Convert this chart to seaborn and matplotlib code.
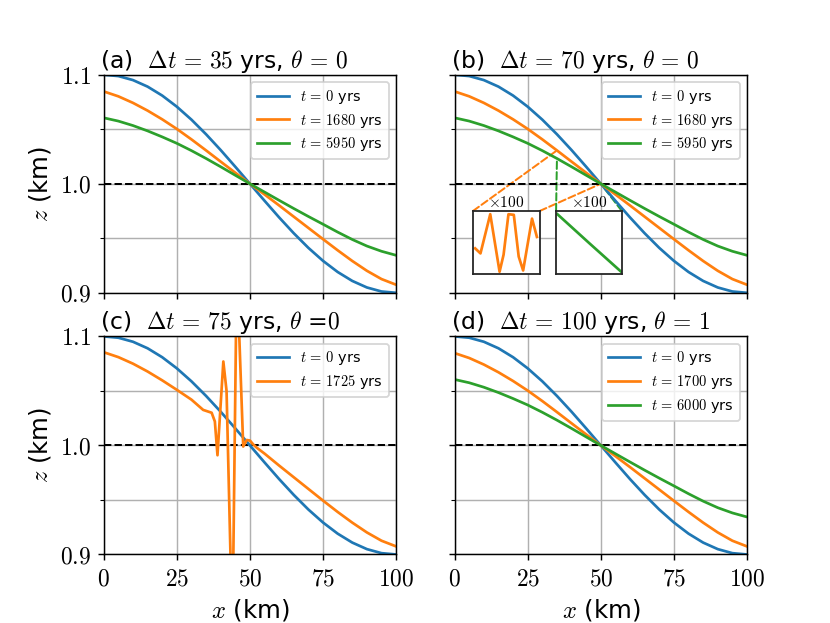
import numpy as np
import matplotlib
matplotlib.use("Agg")
import matplotlib.pyplot as plt
import seaborn as sns
from matplotlib.patches import ConnectionPatch
from matplotlib.ticker import MultipleLocator, FuncFormatter

plt.rcParams["mathtext.fontset"] = "cm"
plt.rcParams["font.family"] = ["DejaVu Sans"]

blue, orange, green = "#1f77b4", "#ff7f0e", "#2ca02c"

# profiles, x every 5 km
x_km = [0, 5, 10, 15, 20, 25, 30, 35, 40, 45, 50,
        55, 60, 65, 70, 75, 80, 85, 90, 95, 100]
z_t0 = [1.1, 1.0988, 1.0951, 1.0891, 1.0809, 1.0707, 1.0588, 1.0454, 1.0309, 1.0156, 1.0,
        0.9844, 0.9691, 0.9546, 0.9412, 0.9293, 0.9191, 0.9109, 0.9049, 0.9012, 0.9]
z_1680 = [1.0847, 1.0802, 1.0742, 1.0671, 1.0591, 1.0503, 1.0407, 1.0306, 1.0203, 1.0101, 1.0,
          0.9902, 0.9801, 0.9698, 0.9595, 0.9492, 0.9390, 0.9292, 0.9202, 0.9126, 0.9074]
z_5950 = [1.0605, 1.0575, 1.0534, 1.0485, 1.0430, 1.0371, 1.0304, 1.0232, 1.0156, 1.0078, 1.0,
          0.9924, 0.9848, 0.9773, 0.9700, 0.9629, 0.9557, 0.9489, 0.9429, 0.9381, 0.9344]
# panel (d) looks the same as (a) at this resolution
z_1700 = z_1680
z_6000 = z_5950

# panel (c): unstable run, t = 1725 yrs
x_c = [0, 5, 10, 15, 20, 25, 30, 34, 36.9, 38.0, 38.9, 40.9, 42.0, 44.0, 45.5,
       47.7, 48.9, 50.0, 51.1, 52.3, 55, 60, 65, 70, 75, 80, 85, 90, 95, 100]
z_1725 = [1.0855, 1.081, 1.075, 1.0678, 1.0597, 1.051, 1.042, 1.0326, 1.030, 1.022, 0.991,
          1.077, 1.050, 0.826, 1.164, 0.999, 1.005, 1.0045, 1.001, 0.998, 0.9925, 0.9815,
          0.9708, 0.9601, 0.9494, 0.9390, 0.9292, 0.9202, 0.9126, 0.9074]

# panel (b) insets, deviation x100 between 35 and 50 km
inset_x_1680 = [35.5, 36.7, 38.9, 41.0, 41.9, 43.0, 44.2, 45.3, 46.3, 48.3, 49.4]
inset_dev_1680 = [-0.09, -0.17, 0.45, -0.46, -0.19, 0.45, 0.44, -0.22, -0.44, 0.38, 0.09]
inset_x_5950 = [35.3, 42.6, 50.0]
inset_dev_5950 = [0.45, -0.01, -0.47]

fig, axes = plt.subplots(2, 2, figsize=(830 / 130, 623 / 130), dpi=130,
                         sharex=True, sharey=True)
(ax_a, ax_b), (ax_c, ax_d) = axes

EQ = r"\,=\,"
panels = [
    (ax_a, rf"(a)  $\Delta t{EQ}35$ yrs, $\theta{EQ}0$",
     [(z_t0, blue, "0"), (z_1680, orange, "1680"), (z_5950, green, "5950")]),
    (ax_b, rf"(b)  $\Delta t{EQ}70$ yrs, $\theta{EQ}0$",
     [(z_t0, blue, "0"), (z_1680, orange, "1680"), (z_5950, green, "5950")]),
    (ax_c, rf"(c)  $\Delta t{EQ}75$ yrs, $\theta$ =$0$",
     [(z_t0, blue, "0")]),
    (ax_d, rf"(d)  $\Delta t{EQ}100$ yrs, $\theta{EQ}1$",
     [(z_t0, blue, "0"), (z_1700, orange, "1700"), (z_6000, green, "6000")]),
]

for ax, title, curves in panels:
    for z, c, t in curves:
        sns.lineplot(x=x_km, y=z, ax=ax, color=c, lw=1.5, estimator=None,
                     label=rf"$t{EQ}{t}$ yrs")
    if ax is ax_c:
        sns.lineplot(x=x_c, y=z_1725, ax=ax, color=orange, lw=1.5, estimator=None,
                     label=rf"$t{EQ}1725$ yrs")
    ax.axhline(1.0, color="black", ls="--", lw=1.1, zorder=1.8)
    ax.set_title(title, loc="left", fontsize=13, pad=4, x=-0.014)
    ax.set_xlim(0, 100)
    ax.set_ylim(0.9, 1.1)
    ax.xaxis.set_major_locator(MultipleLocator(25))
    ax.yaxis.set_major_locator(MultipleLocator(0.1))
    ax.yaxis.set_minor_locator(MultipleLocator(0.05))
    ax.xaxis.set_major_formatter(FuncFormatter(lambda v, p: f"${v:.0f}$"))
    ax.yaxis.set_major_formatter(FuncFormatter(lambda v, p: f"${v:.1f}$"))
    ax.grid(True, which="both", color="#b0b0b0", lw=0.8)
    ax.set_axisbelow(True)
    ax.tick_params(labelsize=13)
    ax.legend(loc="upper right", fontsize=8, handlelength=2.2, labelspacing=0.4)
    ax.set_xlabel("")
    ax.set_ylabel("")
    for s in ax.spines.values():
        s.set_color("black")

for ax in (ax_c, ax_d):
    ax.set_xlabel(r"$x$ (km)", fontsize=13.5)
for ax in (ax_a, ax_c):
    ax.set_ylabel(r"$z$ (km)", fontsize=13.5)

# insets in (b)
ins1 = ax_b.inset_axes([0.0626, 0.085, 0.228, 0.29])
sns.lineplot(x=inset_x_1680, y=inset_dev_1680, ax=ins1, color=orange, lw=1.5, estimator=None)
ins2 = ax_b.inset_axes([0.347, 0.085, 0.225, 0.29])
sns.lineplot(x=inset_x_5950, y=inset_dev_5950, ax=ins2, color=green, lw=1.5, estimator=None)
for ins in (ins1, ins2):
    ins.set_xlim(35, 50)
    ins.set_ylim(-0.5, 0.5)
    ins.set_xticks([])
    ins.set_yticks([])
    ins.set_facecolor("white")
    ins.set_title(r"$\times100$", fontsize=8.5, pad=2)
    for s in ins.spines.values():
        s.set_color("#262626")
        s.set_linewidth(1.0)

links = [(ins1, (0, 1), (35, z_1680[7]), orange),
         (ins1, (1, 1), (50, z_1680[10]), orange),
         (ins2, (0, 1), (35, z_5950[7]), green),
         (ins2, (1, 1), (50, z_5950[10]), green)]
for ins, a, b, c in links:
    con = ConnectionPatch(xyA=a, coordsA=ins.transAxes, xyB=b, coordsB=ax_b.transData,
                          color=c, ls="--", lw=1.1, zorder=1.5)
    ax_b.add_artist(con)

fig.savefig("out.png", dpi=130)
